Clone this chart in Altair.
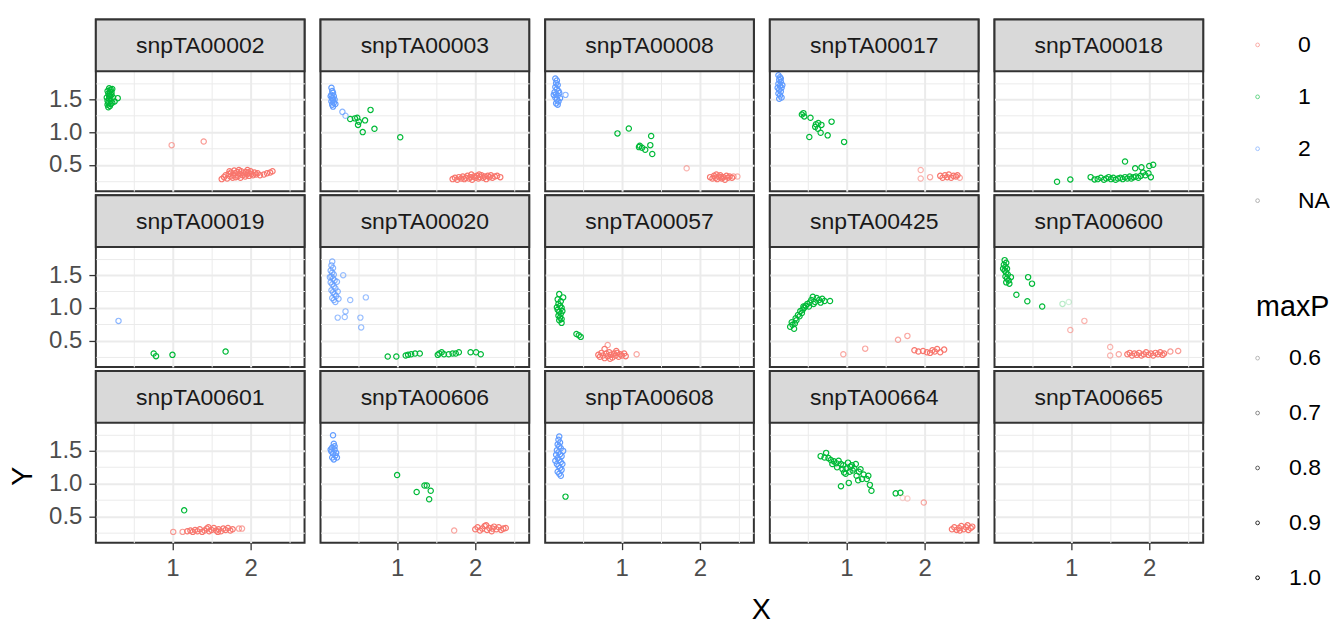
import altair as alt
import pandas as pd

# Marker panels, in facet order (3 rows x 5 columns)
PANEL_NAMES = [
    "snpTA00002", "snpTA00003", "snpTA00008", "snpTA00017", "snpTA00018",
    "snpTA00019", "snpTA00020", "snpTA00057", "snpTA00425", "snpTA00600",
    "snpTA00601", "snpTA00606", "snpTA00608", "snpTA00664", "snpTA00665",
]

# Points per marker: genotype -> (X, Y) pairs (maxP = 1.0);
# "low" holds (X, Y, genotype, maxP) for less certain calls.
snpTA00002 = {
    "1": [(0.17, 1.63), (0.19, 1.67), (0.21, 1.65), (0.18, 1.59), (0.20, 1.56), (0.22, 1.61),
          (0.16, 1.53), (0.19, 1.51), (0.21, 1.48), (0.18, 1.45), (0.17, 1.42), (0.20, 1.40),
          (0.23, 1.45), (0.24, 1.53), (0.22, 1.57), (0.26, 1.47), (0.30, 1.52), (0.18, 1.38),
          (0.20, 1.62), (0.23, 1.66), (0.17, 1.48), (0.19, 1.55), (0.21, 1.43)],
    "0": [(1.63, 0.28), (1.66, 0.31), (1.68, 0.34), (1.70, 0.29), (1.72, 0.36), (1.74, 0.32),
          (1.75, 0.38), (1.77, 0.30), (1.78, 0.34), (1.80, 0.37), (1.81, 0.31), (1.83, 0.39),
          (1.84, 0.33), (1.86, 0.36), (1.87, 0.30), (1.88, 0.40), (1.90, 0.34), (1.91, 0.37),
          (1.93, 0.32), (1.94, 0.39), (1.95, 0.35), (1.97, 0.38), (1.98, 0.33), (2.00, 0.40),
          (2.01, 0.36), (2.03, 0.34), (2.05, 0.38), (2.07, 0.35), (2.09, 0.37), (2.12, 0.34),
          (2.17, 0.35), (2.21, 0.37), (2.25, 0.38), (2.28, 0.40), (1.79, 0.41), (1.85, 0.42),
          (1.96, 0.42), (1.73, 0.40)],
    "low": [(0.99, 0.80, "0", 0.80), (1.40, 0.855, "0", 0.85)],
}
snpTA00003 = {
    "2": [(0.16, 1.68), (0.17, 1.63), (0.18, 1.60), (0.16, 1.57), (0.19, 1.55), (0.17, 1.52),
          (0.18, 1.49), (0.16, 1.47), (0.19, 1.45), (0.17, 1.42), (0.18, 1.39), (0.20, 1.50),
          (0.15, 1.55), (0.21, 1.43)],
    "1": [(0.40, 1.20), (0.49, 1.22), (0.51, 1.16), (0.59, 1.18), (0.50, 1.11), (0.56, 1.00),
          (0.66, 1.34), (0.71, 1.05), (1.04, 0.92), (0.46, 1.21)],
    "0": [(1.71, 0.28), (1.74, 0.30), (1.77, 0.27), (1.79, 0.31), (1.82, 0.29), (1.84, 0.32),
          (1.86, 0.28), (1.88, 0.30), (1.90, 0.33), (1.92, 0.29), (1.94, 0.31), (1.96, 0.27),
          (1.98, 0.32), (2.00, 0.30), (2.02, 0.33), (2.04, 0.29), (2.06, 0.31), (2.08, 0.34),
          (2.10, 0.30), (2.12, 0.32), (2.14, 0.28), (2.16, 0.33), (2.18, 0.31), (2.20, 0.34),
          (2.22, 0.30), (2.25, 0.32), (2.28, 0.33), (2.32, 0.31), (1.95, 0.35), (2.05, 0.35)],
    "low": [(0.30, 1.31, "2", 0.85), (0.34, 1.25, "2", 0.80)],
}
snpTA00008 = {
    "2": [(0.15, 1.82), (0.17, 1.79), (0.16, 1.75), (0.18, 1.72), (0.15, 1.69), (0.17, 1.66),
          (0.19, 1.63), (0.14, 1.61), (0.16, 1.58), (0.18, 1.56), (0.20, 1.60), (0.15, 1.53),
          (0.17, 1.50), (0.19, 1.47), (0.16, 1.44), (0.18, 1.42), (0.21, 1.52), (0.13, 1.57)],
    "1": [(0.945, 0.98), (1.09, 1.055), (1.376, 0.94), (1.23, 0.79), (1.26, 0.76), (1.30, 0.73),
          (1.365, 0.80), (1.39, 0.665), (1.22, 0.77)],
    "0": [(2.13, 0.31), (2.16, 0.29), (2.18, 0.33), (2.20, 0.30), (2.22, 0.28), (2.24, 0.32),
          (2.26, 0.34), (2.28, 0.29), (2.30, 0.31), (2.32, 0.27), (2.34, 0.33), (2.36, 0.30),
          (2.38, 0.32), (2.41, 0.30), (2.27, 0.31), (2.21, 0.35)],
    "low": [(0.28, 1.57, "2", 0.85), (1.83, 0.445, "0", 0.75), (2.43, 0.32, "0", 0.80),
            (2.48, 0.32, "0", 0.75)],
}
snpTA00017 = {
    "2": [(0.13, 1.87), (0.15, 1.84), (0.14, 1.80), (0.16, 1.77), (0.13, 1.74), (0.15, 1.71),
          (0.17, 1.68), (0.14, 1.65), (0.16, 1.62), (0.13, 1.59), (0.15, 1.56), (0.17, 1.53),
          (0.14, 1.51), (0.18, 1.72), (0.12, 1.68), (0.16, 1.82)],
    "1": [(0.43, 1.27), (0.46, 1.24), (0.45, 1.29), (0.54, 1.22), (0.61, 1.12), (0.68, 1.11),
          (0.635, 1.05), (0.67, 0.99), (0.81, 1.16), (0.76, 0.95), (0.525, 0.925), (0.97, 0.85),
          (0.60, 1.08), (0.64, 1.14)],
    "0": [(2.20, 0.33), (2.23, 0.30), (2.26, 0.34), (2.29, 0.31), (2.31, 0.35), (2.34, 0.30),
          (2.37, 0.33), (2.40, 0.32), (2.42, 0.34)],
    "low": [(1.95, 0.42, "0", 0.75), (1.95, 0.29, "0", 0.75), (2.07, 0.31, "0", 0.80),
            (2.45, 0.30, "0", 0.80)],
}
snpTA00018 = {
    "1": [(0.82, 0.24), (0.99, 0.275), (1.25, 0.31), (1.30, 0.275), (1.34, 0.28), (1.38, 0.30),
          (1.42, 0.27), (1.45, 0.29), (1.48, 0.31), (1.51, 0.28), (1.54, 0.30), (1.57, 0.27),
          (1.60, 0.29), (1.63, 0.30), (1.66, 0.28), (1.69, 0.31), (1.72, 0.29), (1.75, 0.32),
          (1.77, 0.29), (1.80, 0.31), (1.83, 0.32), (1.86, 0.30), (1.89, 0.33), (1.69, 0.55),
          (1.82, 0.445), (1.90, 0.46), (2.00, 0.48), (2.05, 0.50), (1.99, 0.37), (2.02, 0.31),
          (1.95, 0.34), (1.92, 0.38)],
}
snpTA00019 = {
    "1": [(0.76, 0.30), (0.79, 0.26), (1.00, 0.28), (1.68, 0.33)],
    "low": [(0.31, 0.80, "2", 0.85)],
}
snpTA00020 = {
    "1": [(0.88, 0.255), (0.99, 0.255), (1.11, 0.27), (1.14, 0.28), (1.18, 0.29), (1.23, 0.30),
          (1.29, 0.30), (1.52, 0.28), (1.54, 0.30), (1.57, 0.32), (1.60, 0.29), (1.66, 0.29),
          (1.71, 0.30), (1.75, 0.30), (1.79, 0.32), (1.94, 0.32), (2.01, 0.32), (2.07, 0.29)],
    "low": [(0.17, 1.71, "2", 0.85), (0.16, 1.65, "2", 0.85), (0.18, 1.61, "2", 0.85),
            (0.15, 1.57, "2", 0.85), (0.17, 1.54, "2", 0.85), (0.19, 1.51, "2", 0.85),
            (0.16, 1.48, "2", 0.85), (0.18, 1.45, "2", 0.85), (0.20, 1.42, "2", 0.85),
            (0.15, 1.39, "2", 0.85), (0.17, 1.36, "2", 0.85), (0.19, 1.33, "2", 0.85),
            (0.21, 1.30, "2", 0.85), (0.16, 1.27, "2", 0.85), (0.18, 1.24, "2", 0.85),
            (0.20, 1.21, "2", 0.85), (0.22, 1.18, "2", 0.85), (0.17, 1.15, "2", 0.85),
            (0.19, 1.12, "2", 0.85), (0.21, 1.09, "2", 0.85), (0.24, 1.25, "2", 0.85),
            (0.23, 1.40, "2", 0.85), (0.14, 1.47, "2", 0.85), (0.25, 1.14, "2", 0.85),
            (0.31, 1.50, "2", 0.80), (0.40, 1.12, "2", 0.80), (0.60, 1.16, "2", 0.80),
            (0.24, 0.85, "2", 0.80), (0.33, 0.86, "2", 0.80), (0.34, 0.945, "2", 0.80),
            (0.53, 0.85, "2", 0.80), (0.54, 0.70, "2", 0.80)],
}
snpTA00057 = {
    "1": [(0.20, 1.21), (0.25, 1.16), (0.18, 1.13), (0.22, 1.10), (0.19, 1.06), (0.21, 1.03),
          (0.23, 1.00), (0.18, 0.97), (0.20, 0.94), (0.22, 0.91), (0.19, 0.88), (0.21, 0.85),
          (0.23, 0.83), (0.20, 0.81), (0.23, 0.77), (0.24, 0.95), (0.17, 1.01), (0.42, 0.60),
          (0.475, 0.555), (0.45, 0.58)],
    "0": [(0.78, 0.37), (0.70, 0.28), (0.72, 0.25), (0.74, 0.31), (0.76, 0.27), (0.78, 0.23),
          (0.80, 0.30), (0.82, 0.26), (0.84, 0.32), (0.86, 0.28), (0.88, 0.24), (0.90, 0.30),
          (0.92, 0.27), (0.94, 0.31), (0.96, 0.25), (0.98, 0.29), (1.00, 0.27), (1.03, 0.30),
          (1.05, 0.26), (0.85, 0.22), (0.93, 0.34)],
    "low": [(0.82, 0.43, "0", 0.80), (1.19, 0.29, "0", 0.80)],
}
snpTA00425 = {
    "1": [(0.28, 0.71), (0.33, 0.68), (0.30, 0.78), (0.35, 0.84), (0.38, 0.89), (0.41, 0.95),
          (0.46, 1.00), (0.50, 1.06), (0.48, 1.03), (0.57, 1.17), (0.60, 1.09), (0.65, 1.12),
          (0.69, 1.14), (0.72, 1.105), (0.79, 1.105), (0.36, 0.81), (0.43, 0.92), (0.31, 0.74),
          (0.40, 0.87), (0.44, 0.97), (0.53, 1.08), (0.55, 1.12), (0.62, 1.15), (0.67, 1.08),
          (0.52, 1.02), (0.58, 1.06), (0.34, 0.76), (0.45, 1.02)],
    "0": [(1.87, 0.35), (1.92, 0.33), (1.98, 0.34), (2.03, 0.32), (2.10, 0.35), (2.16, 0.37),
          (2.20, 0.32), (2.25, 0.36), (2.07, 0.31), (2.13, 0.33)],
    "low": [(0.96, 0.29, "0", 0.80), (1.24, 0.375, "0", 0.80), (1.66, 0.51, "0", 0.80),
            (1.78, 0.57, "0", 0.80)],
}
snpTA00600 = {
    "1": [(0.15, 1.73), (0.17, 1.69), (0.14, 1.66), (0.16, 1.63), (0.18, 1.60), (0.15, 1.57),
          (0.17, 1.54), (0.19, 1.51), (0.16, 1.48), (0.18, 1.45), (0.20, 1.42), (0.17, 1.39),
          (0.21, 1.37), (0.23, 1.47), (0.13, 1.60), (0.45, 1.47), (0.50, 1.37), (0.30, 1.20),
          (0.44, 1.10), (0.63, 1.02)],
    "0": [(1.72, 0.29), (1.75, 0.31), (1.78, 0.27), (1.81, 0.30), (1.84, 0.28), (1.87, 0.31),
          (1.90, 0.27), (1.93, 0.29), (1.96, 0.32), (1.99, 0.28), (2.02, 0.30), (2.05, 0.27),
          (2.08, 0.31), (2.11, 0.29), (2.14, 0.32), (2.17, 0.28), (2.19, 0.30)],
    "low": [(0.89, 1.06, "1", 0.60), (0.97, 1.09, "1", 0.55), (0.99, 0.66, "0", 0.75),
            (1.17, 0.80, "0", 0.75), (1.50, 0.40, "0", 0.75), (1.50, 0.27, "0", 0.75),
            (1.61, 0.29, "0", 0.80), (2.27, 0.33, "0", 0.85), (2.37, 0.34, "0", 0.85)],
}
snpTA00601 = {
    "1": [(1.15, 0.59)],
    "0": [(1.19, 0.27), (1.23, 0.28), (1.26, 0.26), (1.29, 0.29), (1.32, 0.27), (1.35, 0.30),
          (1.38, 0.26), (1.41, 0.28), (1.44, 0.31), (1.47, 0.27), (1.50, 0.29), (1.53, 0.32),
          (1.56, 0.28), (1.59, 0.30), (1.62, 0.27), (1.65, 0.31), (1.68, 0.29), (1.71, 0.32),
          (1.74, 0.28), (1.77, 0.30), (1.46, 0.33), (1.58, 0.26)],
    "low": [(1.01, 0.26, "0", 0.85), (1.13, 0.26, "0", 0.85), (1.85, 0.31, "0", 0.80),
            (1.89, 0.31, "0", 0.80)],
}
snpTA00606 = {
    "2": [(0.18, 1.74), (0.19, 1.61), (0.17, 1.55), (0.20, 1.52), (0.16, 1.49), (0.18, 1.46),
          (0.21, 1.43), (0.17, 1.40), (0.19, 1.37), (0.22, 1.47), (0.15, 1.52), (0.23, 1.40),
          (0.20, 1.57)],
    "1": [(1.00, 1.13), (1.25, 0.87), (1.35, 0.97), (1.38, 0.97), (1.43, 0.89), (1.41, 0.76)],
    "0": [(2.00, 0.30), (2.03, 0.33), (2.06, 0.28), (2.09, 0.31), (2.12, 0.35), (2.15, 0.29),
          (2.18, 0.32), (2.21, 0.27), (2.24, 0.34), (2.27, 0.30), (2.30, 0.33), (2.33, 0.29),
          (2.36, 0.31), (2.39, 0.32), (2.14, 0.36), (2.22, 0.31)],
    "low": [(1.73, 0.28, "0", 0.80)],
}
snpTA00608 = {
    "2": [(0.20, 1.72), (0.19, 1.67), (0.21, 1.63), (0.18, 1.60), (0.20, 1.57), (0.22, 1.54),
          (0.17, 1.51), (0.19, 1.48), (0.21, 1.45), (0.23, 1.42), (0.18, 1.39), (0.20, 1.36),
          (0.22, 1.33), (0.17, 1.30), (0.19, 1.27), (0.21, 1.24), (0.23, 1.21), (0.18, 1.18),
          (0.20, 1.15), (0.22, 1.12), (0.24, 1.30), (0.16, 1.44), (0.25, 1.50), (0.15, 1.35)],
    "1": [(0.28, 0.80)],
}
snpTA00664 = {
    "1": [(0.67, 1.42), (0.74, 1.47), (0.77, 1.39), (0.72, 1.40), (0.80, 1.36), (0.84, 1.34),
          (0.87, 1.31), (0.90, 1.35), (0.93, 1.30), (0.96, 1.28), (0.97, 1.17), (1.00, 1.23),
          (1.02, 1.32), (1.05, 1.26), (1.07, 1.28), (1.10, 1.23), (1.12, 1.30), (1.13, 1.12),
          (1.16, 1.18), (1.18, 1.22), (1.20, 1.07), (1.22, 1.14), (1.26, 1.07), (1.28, 1.12),
          (1.30, 0.98), (1.32, 0.89), (0.93, 0.96), (1.03, 1.01), (0.88, 1.25), (0.99, 1.15),
          (1.08, 1.20), (1.15, 1.05), (0.82, 1.30), (0.95, 1.22), (1.04, 1.18), (1.63, 0.85),
          (1.69, 0.86)],
    "0": [(2.35, 0.30), (2.38, 0.33), (2.41, 0.29), (2.44, 0.32), (2.47, 0.35), (2.50, 0.30),
          (2.53, 0.33), (2.56, 0.29), (2.59, 0.32), (2.61, 0.34), (2.45, 0.28), (2.55, 0.36)],
    "low": [(1.72, 0.78, "0", 0.60), (1.78, 0.77, "0", 0.65), (1.99, 0.71, "0", 0.80)],
}
snpTA00665 = {}

PANEL_POINTS = [
    snpTA00002, snpTA00003, snpTA00008, snpTA00017, snpTA00018,
    snpTA00019, snpTA00020, snpTA00057, snpTA00425, snpTA00600,
    snpTA00601, snpTA00606, snpTA00608, snpTA00664, snpTA00665,
]

GENOTYPES = ["0", "1", "2", "NA"]
GENOTYPE_COLORS = ["#F8766D", "#00BA38", "#619CFF", "#7F7F7F"]
MAXP_TICKS = [0.6, 0.7, 0.8, 0.9, 1.0]

X_GRID = [0.5, 1.0, 1.5, 2.0, 2.5]
Y_GRID = [0.25, 0.5, 0.75, 1.0, 1.25, 1.5, 1.75]

# Layout (pixels)
W = 209            # panel width
STRIP = 52         # strip height
PLOT_H = 120       # plotting region height
H = STRIP + PLOT_H
X_DOMAIN = [0.02, 2.69]
Y_LOW, Y_TOP = 0.095, 1.93
# the strip sits on top of the plotting region, inside the same view
Y_DOMAIN = [Y_LOW, Y_TOP + (Y_TOP - Y_LOW) * STRIP / PLOT_H]

FONT = "Liberation Sans"
GRID_COLOR = "#EBEBEB"
DARK = "#333333"


def to_frame(panel):
    rows = []
    for g in ["0", "1", "2"]:
        for x, y in panel.get(g, []):
            rows.append({"X": x, "Y": y, "genotype": g, "maxP": 1.0})
    for x, y, g, p in panel.get("low", []):
        rows.append({"X": x, "Y": y, "genotype": g, "maxP": p})
    return pd.DataFrame(rows, columns=["X", "Y", "genotype", "maxP"])


color_legend = alt.Legend(
    title=None, orient="none", legendX=1152, legendY=14,
    symbolType="circle", symbolSize=14, symbolStrokeWidth=1, symbolOpacity=0.6,
    labelFontSize=23, labelColor="#000000", labelFont=FONT, labelOffset=29,
    rowPadding=28, padding=0,
)
maxp_legend = alt.Legend(
    title="maxP", orient="none", legendX=1162, legendY=274,
    values=MAXP_TICKS, format=".1f",
    titleFontSize=28.7, titleFontWeight="normal", titleColor="#000000", titleFont=FONT,
    titlePadding=25,
    symbolType="circle", symbolSize=14, symbolStrokeWidth=1, symbolOffset=-10,
    symbolStrokeColor="#000000", symbolFillColor="transparent",
    labelFontSize=23, labelColor="#000000", labelFont=FONT, labelOffset=20,
    rowPadding=31, padding=0,
)


def make_panel(i, name, panel):
    row, col = divmod(i, 5)
    df = to_frame(panel)

    y_axis_kw = dict(
        values=Y_GRID, domain=False, grid=True, gridColor=GRID_COLOR,
        gridWidth={"condition": {"test": "datum.value % 0.5 == 0", "value": 2.0}, "value": 1.0},
        title=None,
    )
    if col == 0:
        y_axis_kw.update(
            labels=True, ticks=True, tickSize=7, tickWidth=1.3, tickColor=DARK,
            tickOpacity={"condition": {"test": "datum.value % 0.5 == 0", "value": 1}, "value": 0},
            labelExpr="datum.value % 0.5 == 0 ? format(datum.value, '.1f') : ''",
            labelFontSize=24, labelColor="#4D4D4D", labelFont=FONT, labelPadding=7,
            labelOverlap=False, labelFlush=False,
        )
        if row == 2:
            y_axis_kw.update(
                title="Y", titleAngle=270, titleX=-73, titleY=105,
                titleAlign="center", titleBaseline="middle",
                titleFontSize=28.7, titleFontWeight="normal", titleColor="#000000", titleFont=FONT,
            )
    else:
        y_axis_kw.update(labels=False, ticks=False)

    x_axis_kw = dict(
        values=X_GRID, domain=False, grid=True, gridColor=GRID_COLOR,
        gridWidth={"condition": {"test": "datum.value % 1 == 0", "value": 2.0}, "value": 1.0},
        title=None,
    )
    if row == 2:
        x_axis_kw.update(
            labels=True, ticks=True, tickSize=7, tickWidth=1.3, tickColor=DARK,
            tickOpacity={"condition": {"test": "datum.value % 1 == 0", "value": 1}, "value": 0},
            labelExpr="datum.value % 1 == 0 ? format(datum.value, 'd') : ''",
            labelFontSize=24, labelColor="#4D4D4D", labelFont=FONT, labelPadding=7,
            labelOverlap=False, labelFlush=False,
        )
        if col == 2:
            x_axis_kw.update(
                title="X", titleX=216, titleY=67, titleAlign="center", titleBaseline="middle",
                titleFontSize=28.7, titleFontWeight="normal", titleColor="#000000", titleFont=FONT,
            )
    else:
        x_axis_kw.update(labels=False, ticks=False)

    points = alt.Chart(df).mark_point(filled=False, size=28, strokeWidth=1.2).encode(
        x=alt.X("X:Q", scale=alt.Scale(domain=X_DOMAIN, nice=False, zero=False),
                axis=alt.Axis(**x_axis_kw)),
        y=alt.Y("Y:Q", scale=alt.Scale(domain=Y_DOMAIN, nice=False, zero=False),
                axis=alt.Axis(**y_axis_kw)),
        color=alt.Color("genotype:N", scale=alt.Scale(domain=GENOTYPES, range=GENOTYPE_COLORS),
                        legend=color_legend),
        opacity=alt.Opacity("maxP:Q", scale=alt.Scale(domain=[0.5, 1.0], range=[0.1, 1.0]),
                            legend=maxp_legend),
    )

    label_df = pd.DataFrame({"snp": [name]})
    strip = alt.Chart(label_df).mark_rect(
        fill="#D9D9D9", stroke=DARK, strokeWidth=2
    ).encode(x=alt.value(0), x2=alt.value(W), y=alt.value(0), y2=alt.value(STRIP))
    strip_text = alt.Chart(label_df).mark_text(
        fontSize=23, font=FONT, color="#1A1A1A", align="center", baseline="middle"
    ).encode(text="snp:N", x=alt.value(W / 2), y=alt.value(STRIP / 2 + 1))

    return alt.layer(points, strip, strip_text).properties(width=W, height=H)


panels = [make_panel(i, n, p) for i, (n, p) in enumerate(zip(PANEL_NAMES, PANEL_POINTS))]

chart = alt.concat(
    *panels, columns=5, spacing={"row": 4, "column": 16}, bounds="flush"
).resolve_scale(
    color="shared", opacity="shared"
).properties(
    autosize=alt.AutoSizeParams(type="pad"),
    padding={"left": 8, "top": 17, "right": 0, "bottom": 0},
).configure(
    font=FONT
).configure_view(
    stroke=DARK, strokeWidth=2
)

chart.save("out.html", embed_options={"renderer": "svg", "actions": False})
